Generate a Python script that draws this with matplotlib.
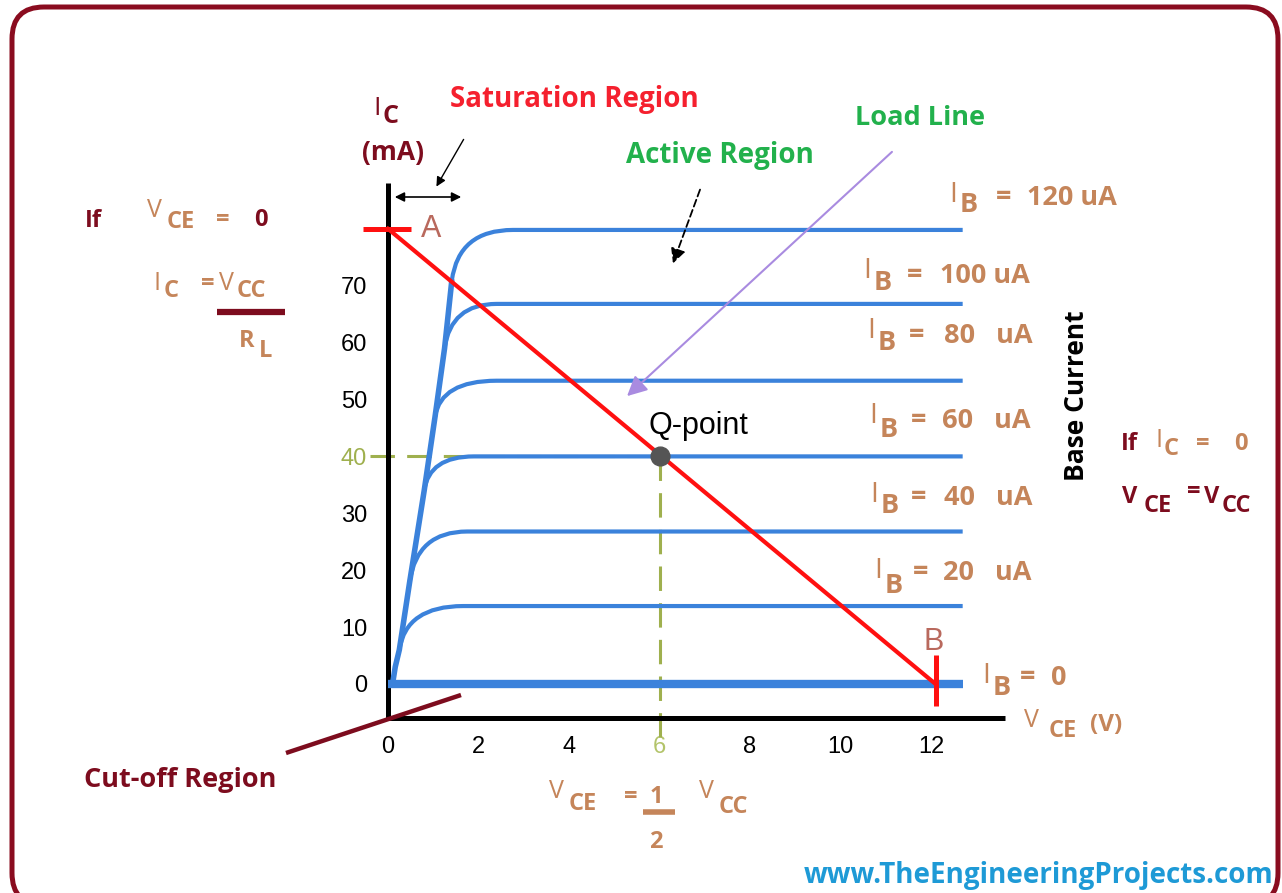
import numpy as np
import matplotlib
matplotlib.use("Agg")
import matplotlib.pyplot as plt
from matplotlib.path import Path
from matplotlib.patches import PathPatch, FancyBboxPatch, FancyArrowPatch
from matplotlib.transforms import IdentityTransform

W, H = 1282, 893

# ---------------- data ----------------
ib_labels_ua = [0, 20, 40, 60, 80, 100, 120]
ic_level_ma = [0.0, 13.7, 26.8, 40.0, 53.3, 66.8, 79.8]
knee_v0 = [None, 0.25, 0.48, 0.80, 1.04, 1.25, 1.41]
knee_i0 = [None, 6.0, 18.0, 34.0, 47.0, 59.0, 70.9]
knee_corner_v = [None, 0.40, 0.64, 0.91, 1.17, 1.39, 1.56]
flat_start_v = [None, 1.66, 1.75, 1.90, 2.40, 2.40, 2.76]
curve_end_v = 12.7
envelope_v = [0.10, 0.16, 0.25, 0.48, 0.80, 1.04, 1.25, 1.41]
envelope_i = [0.0, 3.0, 6.0, 18.0, 34.0, 47.0, 59.0, 70.9]
load_v = [0.0, 12.1]
load_i = [80.0, 0.0]
q_v, q_i = 6.0, 40.0
x_ticks = [0, 2, 4, 6, 8, 10, 12]
y_ticks = [0, 10, 20, 30, 40, 50, 60, 70]

# ---------------- colours ----------------
BLUE = "#3b82db"
RED = "#ff1010"
MAROON = "#7d0c1e"
TAN = "#c5855a"
GREEN = "#22b14c"
PURPLE = "#a98be0"
OLIVE = "#9fb04e"
WEB = "#1e9ad6"
BORDER = "#8a0c1f"

LBL = "Open Sans"
ARI = "Liberation Sans"

fig = plt.figure(figsize=(W / 100, H / 100), dpi=100)
fig.patch.set_facecolor("white")

# ---------------- main chart axes ----------------
ax = fig.add_axes([388 / W, 1 - 718 / H, 617 / W, 535 / H])
ax.set_xlim(0, 617 / 45.25)
ax.set_ylim(-34 / 5.69, (684 - 183) / 5.69)
ax.set_facecolor("none")
for s in ("top", "right"):
    ax.spines[s].set_visible(False)
for s in ("left", "bottom"):
    ax.spines[s].set_linewidth(3.6)
    ax.spines[s].set_color("black")
    ax.spines[s].set_capstyle("butt")
ax.set_xticks(x_ticks)
ax.set_yticks(y_ticks)
ax.set_xticklabels([str(t) for t in x_ticks], fontfamily=ARI, fontsize=17)
ax.set_yticklabels([str(t) for t in y_ticks], fontfamily=ARI, fontsize=17)
ax.tick_params(axis="x", length=0, pad=13)
ax.tick_params(axis="y", length=0, pad=15)
for t in ax.get_yticklabels():
    if t.get_text() == "40":
        t.set_color(OLIVE)
for t in ax.get_xticklabels():
    if t.get_text() == "6":
        t.set_color("#b3c46a")

# output characteristic curves
for k in range(1, len(ib_labels_ua)):
    lvl = ic_level_ma[k]
    verts = [(knee_v0[k], knee_i0[k]), (knee_corner_v[k], lvl),
             (flat_start_v[k], lvl), (curve_end_v, lvl)]
    codes = [Path.MOVETO, Path.CURVE3, Path.CURVE3, Path.LINETO]
    ax.add_patch(PathPatch(Path(verts, codes), fill=False, ec=BLUE, lw=3.0,
                           capstyle="butt", zorder=3))
ax.plot(envelope_v, envelope_i, color=BLUE, lw=4.0, solid_capstyle="round",
        solid_joinstyle="round", zorder=3)
ax.plot([0, curve_end_v], [ic_level_ma[0], ic_level_ma[0]], color=BLUE, lw=6.0,
        solid_capstyle="butt", zorder=3)

# Q-point guide lines
ax.plot([-0.4, q_v], [q_i, q_i], color=OLIVE, lw=2.2, dashes=(8, 4),
        clip_on=False, zorder=2)
ax.plot([q_v, q_v], [q_i, -9.8], color=OLIVE, lw=2.2, dashes=(8, 4),
        clip_on=False, zorder=2)

# load line and end markers
ax.plot(load_v, load_i, color=RED, lw=3.0, clip_on=False, zorder=4)
ax.plot([-0.55, 0.5], [load_i[0], load_i[0]], color=RED, lw=3.6,
        clip_on=False, zorder=4, solid_capstyle="butt")
ax.plot([load_v[1], load_v[1]], [5.1, -3.9], color=RED, lw=3.6,
        clip_on=False, zorder=4, solid_capstyle="butt")
ax.plot([q_v], [q_i], "o", ms=13.5, color="#555555", zorder=6)

# ---------------- annotation overlay (pixel coordinates) ----------------
ov = fig.add_axes([0, 0, 1, 1], facecolor="none")
ov.set_xlim(0, W)
ov.set_ylim(H, 0)
ov.axis("off")

# rounded frame, drawn in display pixels (origin bottom-left)
frame = FancyBboxPatch((12, H - 905), 1266, 898,
                       boxstyle="round,pad=0,rounding_size=32",
                       fc="none", ec=BORDER, lw=3.6,
                       transform=IdentityTransform())
fig.patches.append(frame)
frame.set_figure(fig)


def put(x, y, s, color, size, weight="bold", family=LBL, **kw):
    ov.text(x, y, s, color=color, fontsize=size, fontweight=weight,
            fontfamily=family, ha=kw.pop("ha", "left"),
            va=kw.pop("va", "baseline"), **kw)


# region labels
put(450, 107, "Saturation Region", "#f5202e", 20)
put(855, 125, "Load Line", GREEN, 19.5)
put(626, 163, "Active Region", GREEN, 20)

# Ic (mA) axis label
put(373, 115, "I", MAROON, 19, weight="normal")
put(383, 123, "C", MAROON, 18)
put(362, 160, "(mA)", MAROON, 19)

# left formula
put(85, 227, "If", MAROON, 17)
put(147, 217, "V", TAN, 18, weight="normal")
put(167, 228, "CE", TAN, 17)
put(216, 226, "=", TAN, 17)
put(254, 226, "0", MAROON, 17)
put(153, 290, "I", TAN, 18, weight="normal")
put(164, 297, "C", TAN, 17)
put(201, 290, "=", TAN, 17)
put(219, 290, "V", TAN, 18, weight="normal")
put(237, 297, "CC", TAN, 17)
ov.plot([217, 285], [312, 312], color=MAROON, lw=4.5, solid_capstyle="butt")
put(239, 347, "R", TAN, 17)
put(259, 357, "L", TAN, 17)

# base-current labels
ib_text = ["0", "20   uA", "40   uA", "60   uA", "80   uA", "100 uA", "120 uA"]
ib_pos = {  # I-left, I-bottom, B-left, B-bottom, '='-left, value-left, value-baseline
    120: (949, 202, 960, 212, 996, 1027, 205),
    100: (863, 278, 874, 290, 907, 940, 283),
    80: (867, 338, 878, 350, 909, 944, 343),
    60: (869, 423, 880, 437, 911, 942, 428),
    40: (870, 502, 881, 513, 911, 944, 505),
    20: (874, 578, 885, 593, 913, 943, 580),
    0: (982, 683, 993, 695, 1020, 1051, 685),
}
for k, ib in enumerate(ib_labels_ua):
    xi, yi, xb, yb, xe, xv, yv = ib_pos[ib]
    put(xi, yi, "I", TAN, 20.5, weight="normal")
    put(xb, yb, "B", TAN, 19.5)
    put(xe, yv, "=", TAN, 19.5)
    put(xv, yv, ib_text[k], TAN, 19.5)

put(1077, 396, "Base Current", "black", 19, ha="center", va="center",
    rotation=90)

# right formula
put(1121, 450, "If", MAROON, 17)
put(1156, 447, "I", TAN, 18, weight="normal")
put(1164, 455, "C", TAN, 17)
put(1196, 450, "=", TAN, 17)
put(1234, 450, "0", TAN, 17)
put(1122, 503, "V", MAROON, 17)
put(1144, 512, "CE", MAROON, 17)
put(1187, 498, "=", MAROON, 17)
put(1204, 503, "V", MAROON, 17)
put(1222, 512, "CC", MAROON, 17)

# x-axis label
put(1024, 727, "V", TAN, 18, weight="normal")
put(1049, 737, "CE", TAN, 17)
put(1090, 731, "(V)", TAN, 17.5)

# bottom formula
put(549, 798, "V", TAN, 18, weight="normal")
put(569, 810, "CE", TAN, 17)
put(624, 803, "=", TAN, 17)
put(656, 803, "1", TAN, 17, ha="center")
ov.plot([643, 675], [812, 812], color=TAN, lw=4.0, solid_capstyle="butt")
put(656, 848, "2", TAN, 17, ha="center")
put(699, 798, "V", TAN, 18, weight="normal")
put(719, 813, "CC", TAN, 17)

# cut-off
put(84, 787, "Cut-off Region", MAROON, 19.5)
ov.plot([286, 461], [753, 695], color=MAROON, lw=3.2, solid_capstyle="butt")

# point labels
put(649, 434, "Q-point", "black", 22, weight="normal", family=ARI)
put(421, 237, "A", "#b9695d", 22, weight="normal", family=ARI)
put(924, 650, "B", "#b9695d", 22, weight="normal", family=ARI)

# arrows
ov.add_patch(FancyArrowPatch((465, 137), (435, 189), arrowstyle="-|>",
                             mutation_scale=14, lw=1.0, color="black"))
ov.add_patch(FancyArrowPatch((392, 197), (464, 197), arrowstyle="<|-|>",
                             mutation_scale=14, lw=1.2, color="black"))
ov.add_patch(FancyArrowPatch((701, 187), (672, 266), arrowstyle="-|>",
                             mutation_scale=22, lw=1.3, color="black",
                             linestyle=(0, (4, 2))))
ov.add_patch(FancyArrowPatch((894, 150), (625, 398), arrowstyle="-|>",
                             mutation_scale=30, lw=1.5, color=PURPLE))

# website
put(804, 883, "www.TheEngineeringProjects.com", WEB, 20)

fig.savefig("out.png", dpi=100, facecolor="white")
